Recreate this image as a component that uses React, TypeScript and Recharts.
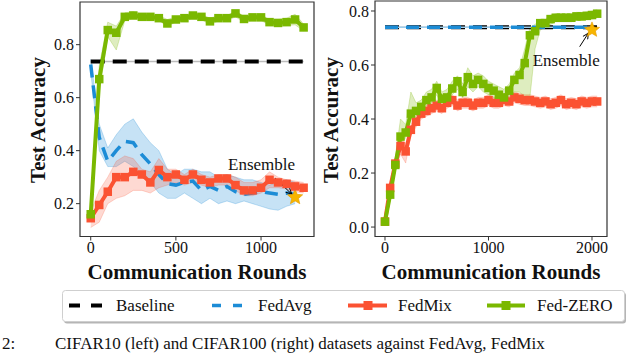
import React from 'react';
import { ComposedChart, Line, Area, XAxis, YAxis, ReferenceDot, ReferenceLine, ReferenceArea } from 'recharts';

const BLACK = '#000000';
const BLUE = '#1c8cd6';
const RED = '#fb5232';
const GREEN = '#7ab800';
const STAR = '#f7b500';
const FRAME = '#333333';
const FONT = '"Liberation Serif", "DejaVu Serif", serif';

// ---- CIFAR10 (left) ----
const roundsLeft = [0, 50, 100, 150, 200, 250, 300, 350, 400, 450, 500, 550, 600, 650, 700, 750, 800, 850, 900, 950, 1000, 1050, 1100, 1150, 1200, 1250];
const baselineLeft = 0.736;
const fedAvgLeft = [0.725, 0.45, 0.36, 0.4, 0.435, 0.43, 0.385, 0.35, 0.31, 0.275, 0.27, 0.28, 0.285, 0.25, 0.265, 0.25, 0.265, 0.245, 0.235, 0.24, 0.245, 0.24, 0.235, 0.24, 0.235];
const fedAvgLeftLow = [0.7, 0.4, 0.34, 0.34, 0.36, 0.34, 0.31, 0.28, 0.24, 0.22, 0.22, 0.24, 0.22, 0.2, 0.22, 0.2, 0.21, 0.2, 0.21, 0.2, 0.19, 0.18, 0.175, 0.19, 0.2];
const fedAvgLeftHigh = [0.745, 0.5, 0.41, 0.46, 0.5, 0.52, 0.47, 0.43, 0.4, 0.33, 0.31, 0.33, 0.33, 0.32, 0.32, 0.3, 0.31, 0.3, 0.29, 0.29, 0.28, 0.27, 0.28, 0.29, 0.28];
const fedMixLeft = [0.145, 0.195, 0.245, 0.3, 0.3, 0.32, 0.31, 0.28, 0.327, 0.3, 0.31, 0.29, 0.31, 0.29, 0.28, 0.295, 0.295, 0.27, 0.25, 0.25, 0.26, 0.29, 0.28, 0.275, 0.265, 0.26];
const fedMixLeftLow = [0.11, 0.13, 0.2, 0.22, 0.23, 0.25, 0.25, 0.24, 0.26, 0.27, 0.28, 0.27, 0.28, 0.27, 0.26, 0.27, 0.27, 0.25, 0.23, 0.23, 0.24, 0.26, 0.26, 0.255, 0.245, 0.24];
const fedMixLeftHigh = [0.17, 0.25, 0.3, 0.36, 0.38, 0.37, 0.33, 0.32, 0.37, 0.33, 0.33, 0.31, 0.33, 0.31, 0.3, 0.31, 0.31, 0.3, 0.28, 0.28, 0.29, 0.32, 0.3, 0.29, 0.285, 0.28];
const fedZeroLeft = [0.16, 0.67, 0.855, 0.845, 0.905, 0.91, 0.905, 0.905, 0.9, 0.88, 0.895, 0.9, 0.91, 0.905, 0.888, 0.9, 0.9, 0.918, 0.897, 0.903, 0.903, 0.885, 0.882, 0.885, 0.895, 0.865];
const fedZeroLeftLow = [0.14, 0.62, 0.83, 0.78, 0.89, 0.9, 0.895, 0.895, 0.89, 0.87, 0.885, 0.89, 0.9, 0.895, 0.875, 0.89, 0.89, 0.905, 0.885, 0.892, 0.892, 0.872, 0.87, 0.872, 0.875, 0.852];
const fedZeroLeftHigh = [0.18, 0.72, 0.885, 0.87, 0.92, 0.925, 0.915, 0.915, 0.91, 0.895, 0.905, 0.91, 0.92, 0.915, 0.9, 0.91, 0.91, 0.928, 0.907, 0.913, 0.913, 0.895, 0.895, 0.9, 0.915, 0.878];
const ensembleLeft = { round: 1200, acc: 0.224 };

// ---- CIFAR100 (right) ----
const roundsRight = [0, 50, 100, 150, 200, 250, 300, 350, 400, 450, 500, 550, 600, 650, 700, 750, 800, 850, 900, 950, 1000, 1050, 1100, 1150, 1200, 1250, 1300, 1350, 1400, 1450, 1500, 1550, 1600, 1650, 1700, 1750, 1800, 1850, 1900, 1950, 2000, 2050];
const baselineRight = 0.74;
const fedAvgRight = [0.74, 0.74, 0.74, 0.74, 0.74, 0.74, 0.74, 0.74, 0.74, 0.74, 0.74, 0.74, 0.74, 0.74, 0.74, 0.74, 0.74, 0.74, 0.74, 0.74, 0.74, 0.74, 0.74, 0.74, 0.74, 0.74, 0.74, 0.74, 0.74, 0.74, 0.74, 0.74, 0.74, 0.74, 0.74, 0.74, 0.74, 0.74, 0.74, 0.74, 0.74];
const fedMixRight = [0.02, 0.145, 0.235, 0.3, 0.28, 0.36, 0.39, 0.42, 0.43, 0.44, 0.45, 0.44, 0.46, 0.47, 0.45, 0.46, 0.46, 0.45, 0.46, 0.46, 0.47, 0.46, 0.46, 0.47, 0.465, 0.48, 0.475, 0.47, 0.47, 0.465, 0.46, 0.465, 0.455, 0.46, 0.47, 0.455, 0.46, 0.455, 0.465, 0.46, 0.465, 0.465];
const fedMixRightLow = [0.01, 0.12, 0.21, 0.27, 0.237, 0.34, 0.37, 0.4, 0.41, 0.42, 0.43, 0.42, 0.44, 0.45, 0.43, 0.44, 0.44, 0.43, 0.44, 0.44, 0.45, 0.44, 0.44, 0.45, 0.445, 0.46, 0.455, 0.45, 0.45, 0.445, 0.44, 0.445, 0.435, 0.44, 0.45, 0.435, 0.44, 0.435, 0.445, 0.44, 0.445, 0.445];
const fedMixRightHigh = [0.03, 0.17, 0.26, 0.33, 0.31, 0.38, 0.41, 0.44, 0.45, 0.46, 0.47, 0.46, 0.48, 0.49, 0.47, 0.48, 0.48, 0.47, 0.48, 0.48, 0.49, 0.48, 0.48, 0.49, 0.485, 0.5, 0.495, 0.49, 0.49, 0.485, 0.48, 0.485, 0.475, 0.48, 0.49, 0.475, 0.48, 0.475, 0.485, 0.48, 0.485, 0.485];
const fedZeroRight = [0.02, 0.12, 0.23, 0.335, 0.35, 0.42, 0.43, 0.445, 0.47, 0.48, 0.515, 0.475, 0.48, 0.513, 0.54, 0.5, 0.555, 0.53, 0.545, 0.53, 0.515, 0.505, 0.49, 0.48, 0.505, 0.545, 0.563, 0.607, 0.71, 0.725, 0.755, 0.755, 0.77, 0.775, 0.775, 0.775, 0.775, 0.78, 0.78, 0.782, 0.785, 0.79];
const fedZeroRightLow = [0.01, 0.1, 0.21, 0.31, 0.33, 0.4, 0.41, 0.42, 0.44, 0.46, 0.49, 0.45, 0.46, 0.49, 0.51, 0.48, 0.52, 0.5, 0.52, 0.5, 0.49, 0.48, 0.47, 0.46, 0.48, 0.5, 0.5, 0.48, 0.48, 0.66, 0.73, 0.74, 0.75, 0.76, 0.76, 0.76, 0.76, 0.765, 0.765, 0.77, 0.77, 0.775];
const fedZeroRightHigh = [0.03, 0.14, 0.26, 0.4, 0.38, 0.5, 0.46, 0.47, 0.5, 0.51, 0.54, 0.5, 0.51, 0.54, 0.56, 0.53, 0.59, 0.56, 0.57, 0.56, 0.54, 0.53, 0.52, 0.51, 0.53, 0.57, 0.59, 0.66, 0.74, 0.75, 0.77, 0.77, 0.785, 0.79, 0.79, 0.79, 0.79, 0.795, 0.795, 0.797, 0.8, 0.805];
const ensembleRight = { round: 2000, acc: 0.73 };

const legendItems = ['Baseline', 'FedAvg', 'FedMix', 'Fed-ZERO'];

type Row = Record<string, number | number[] | undefined>;

function buildRows(
  rounds: number[], baseline: number,
  avg: number[], avgLo: number[] | null, avgHi: number[] | null,
  mix: number[], mixLo: number[], mixHi: number[],
  zero: number[], zeroLo: number[], zeroHi: number[],
): Row[] {
  return rounds.map((r, i) => ({
    r,
    base: baseline,
    avg: avg[i],
    avgBand: avgLo && avgHi && avgLo[i] != null ? [avgLo[i], avgHi[i]] : undefined,
    mix: mix[i],
    mixBand: [mixLo[i], mixHi[i]],
    zero: zero[i],
    zeroBand: [zeroLo[i], zeroHi[i]],
  }));
}

const leftRows = buildRows(roundsLeft, baselineLeft, fedAvgLeft, fedAvgLeftLow, fedAvgLeftHigh,
  fedMixLeft, fedMixLeftLow, fedMixLeftHigh, fedZeroLeft, fedZeroLeftLow, fedZeroLeftHigh);
const rightRows = buildRows(roundsRight, baselineRight, fedAvgRight, null, null,
  fedMixRight, fedMixRightLow, fedMixRightHigh, fedZeroRight, fedZeroRightLow, fedZeroRightHigh);

const squareDot = (color: string, size: number) => (p: any) => {
  if (p.cx == null || p.cy == null || p.value == null) return <g key={p.index} />;
  return <rect key={p.index} x={p.cx - size / 2} y={p.cy - size / 2} width={size} height={size} fill={color} />;
};

function starPoints(cx: number, cy: number, R: number, r: number) {
  const pts: string[] = [];
  for (let k = 0; k < 10; k++) {
    const a = -Math.PI / 2 + (k * Math.PI) / 5;
    const rad = k % 2 === 0 ? R : r;
    pts.push(`${cx + rad * Math.cos(a)},${cy + rad * Math.sin(a)}`);
  }
  return pts.join(' ');
}

const Star = (p: any) => (
  <polygon points={starPoints(p.cx, p.cy, 8, 3.6)} fill={STAR} stroke="#e89a00" strokeWidth={0.6} />
);

const EnsembleText = (p: any) => (
  <text x={p.cx} y={p.cy} textAnchor="middle" dominantBaseline="central" fontFamily={FONT} fontSize={17} fill="#111">
    Ensemble
  </text>
);

const Arrow = (p: any) => (
  <line x1={p.x1} y1={p.y1} x2={p.x2} y2={p.y2} stroke="#000" strokeWidth={1} markerEnd="url(#ensArrow)" />
);

const tickStyle = { fontSize: 16, fill: '#111', fontFamily: FONT };

interface PanelProps {
  rows: Row[];
  xDomain: [number, number];
  xTicks: number[];
  yDomain: [number, number];
  yTicks: number[];
  margin: { top: number; right: number; bottom: number; left: number };
  ensemble: { round: number; acc: number };
  textAt: { round: number; acc: number };
  arrowFrom: { round: number; acc: number };
  arrowTo: { round: number; acc: number };
  avgBand: boolean;
}

function Panel(props: PanelProps) {
  const { rows, xDomain, xTicks, yDomain, yTicks, margin, ensemble, textAt, arrowFrom, arrowTo, avgBand } = props;
  return (
    <ComposedChart width={330} height={266} data={rows} margin={margin}>
      <XAxis type="number" dataKey="r" domain={xDomain} ticks={xTicks} allowDataOverflow
        height={29.5} tickSize={4} tickMargin={1.5} tick={tickStyle}
        axisLine={false} tickLine={{ stroke: FRAME }} />
      <YAxis type="number" domain={yDomain} ticks={yTicks} allowDataOverflow width={80}
        tickSize={4} tickMargin={2} tick={tickStyle} tickFormatter={(v: number) => v.toFixed(1)}
        axisLine={false} tickLine={{ stroke: FRAME }} />

      {avgBand && (
        <Area dataKey="avgBand" type="linear" fill={BLUE} fillOpacity={0.25} stroke={BLUE} strokeOpacity={0.25}
          strokeWidth={1} isAnimationActive={false} dot={false} activeDot={false} />
      )}
      <Area dataKey="mixBand" type="linear" fill={RED} fillOpacity={0.22} stroke={RED} strokeOpacity={0.22}
        strokeWidth={1} isAnimationActive={false} dot={false} activeDot={false} />
      <Area dataKey="zeroBand" type="linear" fill={GREEN} fillOpacity={0.25} stroke={GREEN} strokeOpacity={0.25}
        strokeWidth={1} isAnimationActive={false} dot={false} activeDot={false} />

      <Line dataKey="base" type="linear" stroke="#bcbcbc" strokeWidth={1.5} dot={false} activeDot={false} isAnimationActive={false} />
      <Line dataKey="base" type="linear" stroke={BLACK} strokeWidth={4} strokeDasharray="14 8" dot={false} activeDot={false} isAnimationActive={false} />
      {!avgBand && (
        <Line dataKey="avg" type="linear" stroke="#9fcdeb" strokeWidth={1.5} dot={false} activeDot={false} isAnimationActive={false} />
      )}
      <Line dataKey="avg" type="linear" stroke={BLUE} strokeWidth={3.5} strokeDasharray="13 8" dot={false} activeDot={false} isAnimationActive={false} />
      <ReferenceDot x={ensemble.round} y={ensemble.acc} r={8} shape={Star} ifOverflow="visible" />
      <Line dataKey="mix" type="linear" stroke={RED} strokeWidth={4} dot={squareDot(RED, 8.5)} activeDot={false} isAnimationActive={false} />
      <Line dataKey="zero" type="linear" stroke={GREEN} strokeWidth={4} dot={squareDot(GREEN, 8.5)} activeDot={false} isAnimationActive={false} />

      <ReferenceLine segment={[{ x: arrowFrom.round, y: arrowFrom.acc }, { x: arrowTo.round, y: arrowTo.acc }]}
        shape={Arrow} ifOverflow="visible" />
      <ReferenceDot x={textAt.round} y={textAt.acc} r={1} shape={EnsembleText} ifOverflow="visible" />
      <ReferenceArea x1={xDomain[0]} x2={xDomain[1]} y1={yDomain[0]} y2={yDomain[1]}
        fill="none" fillOpacity={0} stroke={FRAME} strokeWidth={1.2} strokeOpacity={1} ifOverflow="visible" />
    </ComposedChart>
  );
}

function LegendBox() {
  const cy = 305.5;
  return (
    <g>
      <rect x={64} y={292.5} width={562} height={31} rx={3} fill="#b5b5b5" />
      <rect x={62.5} y={290.5} width={562} height={31} rx={3} fill="#fff" stroke="#cfcfcf" />
      <line x1={69} y1={cy} x2={102} y2={cy} stroke={BLACK} strokeWidth={4} strokeDasharray="11 11" />
      <line x1={212} y1={cy} x2={245} y2={cy} stroke={BLUE} strokeWidth={3.5} strokeDasharray="9 12" />
      <line x1={348} y1={cy} x2={387} y2={cy} stroke={RED} strokeWidth={4} />
      <rect x={363.5} y={cy - 4.5} width={9} height={9} fill={RED} />
      <line x1={487} y1={cy} x2={525} y2={cy} stroke={GREEN} strokeWidth={4} />
      <rect x={501.5} y={cy - 4.5} width={9} height={9} fill={GREEN} />
      {[116, 258, 398, 537].map((x, i) => (
        <text key={legendItems[i]} x={x} y={cy} dominantBaseline="central" fontFamily={FONT} fontSize={17} fill="#111">
          {legendItems[i]}
        </text>
      ))}
    </g>
  );
}

export default function App() {
  const titleStyle = { fontFamily: FONT, fontWeight: 700, fontSize: 21, fill: '#111' } as const;
  return (
    <div style={{ position: 'absolute', left: 0, top: 0, width: 640, height: 355, overflow: 'hidden', background: '#fff' }}>
      <svg width={0} height={0} style={{ position: 'absolute' }}>
        <defs>
          <marker id="ensArrow" viewBox="0 0 10 10" refX={9} refY={5} markerWidth={7} markerHeight={7} orient="auto">
            <path d="M1,1 L9,5 L1,9" fill="none" stroke="#000" strokeWidth={1.4} />
          </marker>
        </defs>
      </svg>
      <div style={{ position: 'absolute', left: 0, top: 0 }}>
        <Panel rows={leftRows} xDomain={[-63, 1311]} xTicks={[0, 500, 1000]} yDomain={[0.076, 0.961]}
          yTicks={[0.2, 0.4, 0.6, 0.8]} margin={{ top: 2, right: 16, bottom: 0, left: 0 }}
          ensemble={ensembleLeft} textAt={{ round: 1003, acc: 0.346 }}
          arrowFrom={{ round: 1082, acc: 0.297 }} arrowTo={{ round: 1180, acc: 0.236 }} avgBand />
      </div>
      <div style={{ position: 'absolute', left: 295, top: 0 }}>
        <Panel rows={rightRows} xDomain={[-96.5, 2145]} xTicks={[0, 1000, 2000]} yDomain={[-0.035, 0.837]}
          yTicks={[0, 0.2, 0.4, 0.6, 0.8]} margin={{ top: 1, right: 18, bottom: 0, left: 0 }}
          ensemble={ensembleRight} textAt={{ round: 1751, acc: 0.615 }}
          arrowFrom={{ round: 1881, acc: 0.668 }} arrowTo={{ round: 1965, acc: 0.718 }} avgBand={false} />
      </div>
      <svg width={640} height={355} style={{ position: 'absolute', left: 0, top: 0, pointerEvents: 'none' }}>
        <text transform="translate(37.5,120) rotate(-90)" textAnchor="middle" dominantBaseline="central" {...titleStyle}>Test Accuracy</text>
        <text transform="translate(331,120) rotate(-90)" textAnchor="middle" dominantBaseline="central" {...titleStyle}>Test Accuracy</text>
        <text x={197} y={272} textAnchor="middle" dominantBaseline="central" {...titleStyle}>Communication Rounds</text>
        <text x={491} y={272} textAnchor="middle" dominantBaseline="central" {...titleStyle}>Communication Rounds</text>
        <LegendBox />
        <text x={2} y={349} fontFamily={FONT} fontSize={17} fill="#111">2:</text>
        <text x={55} y={349} fontFamily={FONT} fontSize={17} fill="#111">CIFAR10 (left) and CIFAR100 (right) datasets against FedAvg, FedMix</text>
      </svg>
    </div>
  );
}
